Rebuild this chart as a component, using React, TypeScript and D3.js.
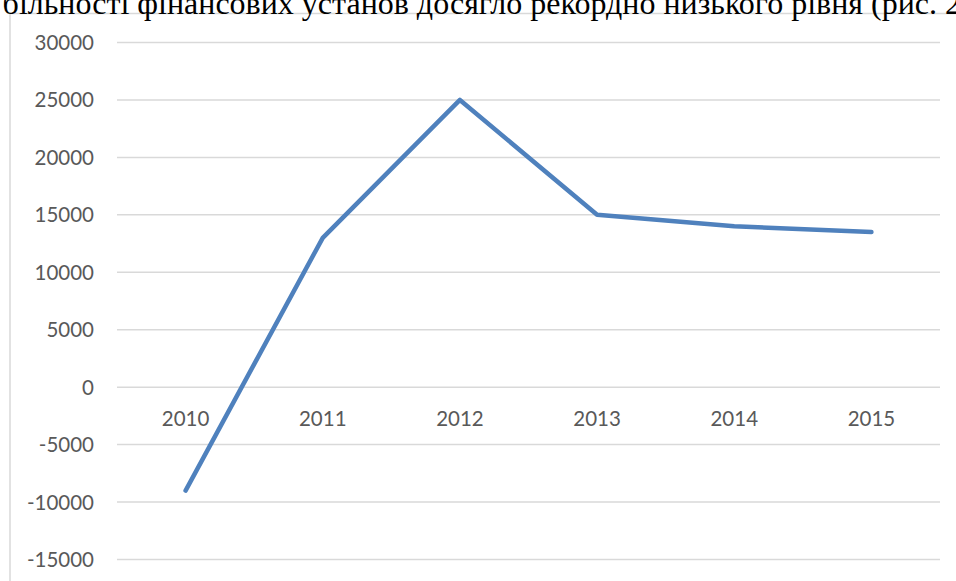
import { useRef, useEffect } from "react";
import * as d3 from "d3";

const W = 956;
const H = 581;

const years = ["2010", "2011", "2012", "2013", "2014", "2015"];
const values = [-9000, 13000, 25000, 15000, 14000, 13500];
const yTicks = [-15000, -10000, -5000, 0, 5000, 10000, 15000, 20000, 25000, 30000];
const heading = "більності фінансових установ досягло рекордно низького рівня (рис. 2";

const LINE = "#4f81bd";
const GRID = "#d9d9d9";
const LABEL = "#595959";

export default function App() {
  const svgRef = useRef<SVGSVGElement>(null);

  useEffect(() => {
    if (!svgRef.current) return;
    const svg = d3.select(svgRef.current);
    svg.selectAll("*").remove();

    const x = d3.scaleBand<string>().domain(years).range([117, 940]);
    const y = d3.scaleLinear().domain([-15000, 30000]).range([559.5, 42.5]);

    svg.append("rect").attr("width", W).attr("height", H).attr("fill", "#fff");

    // chart frame
    svg.append("rect")
      .attr("x", 10).attr("y", 13.5)
      .attr("width", W + 20).attr("height", H + 20)
      .attr("fill", "none").attr("stroke", GRID).attr("stroke-width", 1.5);

    // clipped sentence of the surrounding document
    svg.append("text")
      .attr("x", 961).attr("y", 14)
      .attr("text-anchor", "end")
      .attr("font-family", "'Liberation Serif', 'Times New Roman', serif")
      .attr("font-size", 32)
      .attr("fill", "#000")
      .text(heading);

    // gridlines
    svg.append("g")
      .selectAll("line")
      .data(yTicks)
      .join("line")
      .attr("x1", 117).attr("x2", 940)
      .attr("y1", (d) => y(d)).attr("y2", (d) => y(d))
      .attr("stroke", GRID).attr("stroke-width", 1.5);

    // y labels
    svg.append("g")
      .selectAll("text")
      .data(yTicks)
      .join("text")
      .attr("x", 94).attr("y", (d) => y(d) + 7.5)
      .attr("text-anchor", "end")
      .attr("font-family", "Lato, 'Open Sans', sans-serif")
      .attr("font-size", 20.5)
      .attr("fill", LABEL)
      .text((d) => String(d));

    // category labels (sit just below the zero line)
    svg.append("g")
      .selectAll("text")
      .data(years)
      .join("text")
      .attr("x", (d) => x(d)! + x.bandwidth() / 2)
      .attr("y", y(0) + 38.5)
      .attr("text-anchor", "middle")
      .attr("font-family", "Lato, 'Open Sans', sans-serif")
      .attr("font-size", 20.5)
      .attr("fill", LABEL)
      .text((d) => d);

    const line = d3.line<number>()
      .x((_, i) => x(years[i])! + x.bandwidth() / 2)
      .y((d) => y(d));

    svg.append("path")
      .datum(values)
      .attr("d", line)
      .attr("fill", "none")
      .attr("stroke", LINE)
      .attr("stroke-width", 4.5)
      .attr("stroke-linejoin", "round")
      .attr("stroke-linecap", "round");
  }, []);

  return (
    <svg
      ref={svgRef}
      width={W}
      height={H}
      style={{ position: "absolute", left: 0, top: 0, display: "block" }}
    />
  );
}
